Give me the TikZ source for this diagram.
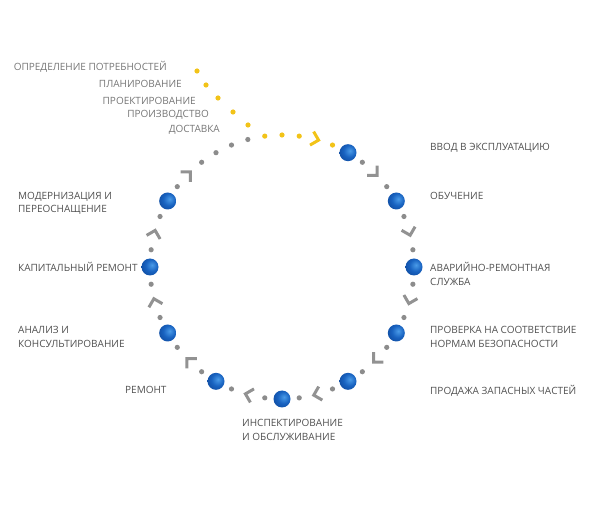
\documentclass[tikz,border=0pt]{standalone}
\usepackage{fontspec}
\setmainfont{Open Sans}
\definecolor{txt}{HTML}{505050}
\definecolor{txtlight}{HTML}{767676}
\definecolor{dotgray}{HTML}{8C8C8C}
\definecolor{chevgray}{HTML}{929292}
\definecolor{gold}{HTML}{F2C318}
\definecolor{bla}{HTML}{4A9BE8}
\definecolor{blb}{HTML}{1862C0}
\definecolor{blc}{HTML}{0A3C88}
\pgfdeclareradialshading{bluedot}{\pgfpoint{6bp}{6bp}}{color(0bp)=(bla); color(18bp)=(blb); color(46bp)=(blc); color(80bp)=(blc)}
\tikzset{
  bdot/.style={circle, minimum size=17pt, inner sep=0pt, shading=bluedot},
  gdot/.style={fill=dotgray},
  ydot/.style={fill=gold},
  chevron/.style={line width=3pt, line cap=butt, line join=miter},
  lbl/.style={font=\fontsize{10}{13.5}\selectfont, text=txt, inner sep=0pt, align=left, anchor=base west},
  toplbl/.style={font=\fontsize{10}{13.5}\selectfont, text=txtlight, inner sep=0pt, anchor=base east}
}
\begin{document}
\begin{tikzpicture}[x=1pt,y=1pt]
\useasboundingbox (0,0) rectangle (589,-510);
% gray dots along the circle
\foreach \a in {52.5,37.5,22.5,7.5,-7.5,-22.5,-37.5,-52.5,-67.5,-82.5,-97.5,-112.5,-127.5,-142.5,-157.5,-172.5,172.5,157.5,142.5,127.5,120,112.5,105}
  \fill[gdot] ({282+132*cos(\a)},{-267+132*sin(\a)}) circle (2.6);
% yellow dots along the circle
\foreach \a in {97.5,90,82.5,67.5}
  \fill[ydot] ({282+132*cos(\a)},{-267+132*sin(\a)}) circle (2.6);
% yellow diagonal dots
\foreach \p in {(197,-71),(206,-85),(218,-98),(233,-112),(248,-125)}
  \fill[ydot] \p circle (2.6);
% gray chevrons
\foreach \a in {45,15,-15,-45,-75,-105,-135,-165,165,135}
  \draw[chevron, draw=chevgray, shift={({282+132*cos(\a)},{-267+132*sin(\a)})}, rotate=\a-90] (-4.5,7) -- (2.5,0) -- (-4.5,-7);
% yellow chevron
\draw[chevron, draw=gold, shift={({282+132*cos(75)},{-267+132*sin(75)})}, rotate=-15] (-4.5,7) -- (2.5,0) -- (-4.5,-7);
% blue stage circles
\foreach \a/\n in {60/b1,30/b2,0/b3,-30/b4,-60/b5,-90/b6,-120/b7,-150/b8,180/b9,150/b10}
  \node[bdot] (\n) at ({282+132*cos(\a)},{-267+132*sin(\a)}) {};
% top labels
\node[toplbl] (t1) at (167,-70.6) {ОПРЕДЕЛЕНИЕ ПОТРЕБНОСТЕЙ};
\node[toplbl] (t2) at (182,-87.6) {ПЛАНИРОВАНИЕ};
\node[toplbl] (t3) at (196,-104.6) {ПРОЕКТИРОВАНИЕ};
\node[toplbl] (t4) at (209,-117.6) {ПРОИЗВОДСТВО};
\node[toplbl] (t5) at (220,-132.6) {ДОСТАВКА};
% right labels (base anchor = baseline of last line)
\node[lbl] (l1) at (430,-150.6) {ВВОД В ЭКСПЛУАТАЦИЮ};
\node[lbl] (l2) at (430,-199.6) {ОБУЧЕНИЕ};
\node[lbl] (l3) at (430,-285.1) {АВАРИЙНО-РЕМОНТНАЯ\\СЛУЖБА};
\node[lbl] (l4) at (430,-347.1) {ПРОВЕРКА НА СООТВЕТСТВИЕ\\НОРМАМ БЕЗОПАСНОСТИ};
\node[lbl] (l5) at (430,-394.6) {ПРОДАЖА ЗАПАСНЫХ ЧАСТЕЙ};
% bottom labels
\node[lbl] (l6) at (242,-440.1) {ИНСПЕКТИРОВАНИЕ\\И ОБСЛУЖИВАНИЕ};
\node[lbl] (l7) at (125,-393.6) {РЕМОНТ};
% left labels
\node[lbl] (l8) at (18,-347.1) {АНАЛИЗ И\\КОНСУЛЬТИРОВАНИЕ};
\node[lbl] (l9) at (18,-271.6) {КАПИТАЛЬНЫЙ РЕМОНТ};
\node[lbl] (l10) at (18,-212.6) {МОДЕРНИЗАЦИЯ И\\ПЕРЕОСНАЩЕНИЕ};
\end{tikzpicture}
\end{document}
